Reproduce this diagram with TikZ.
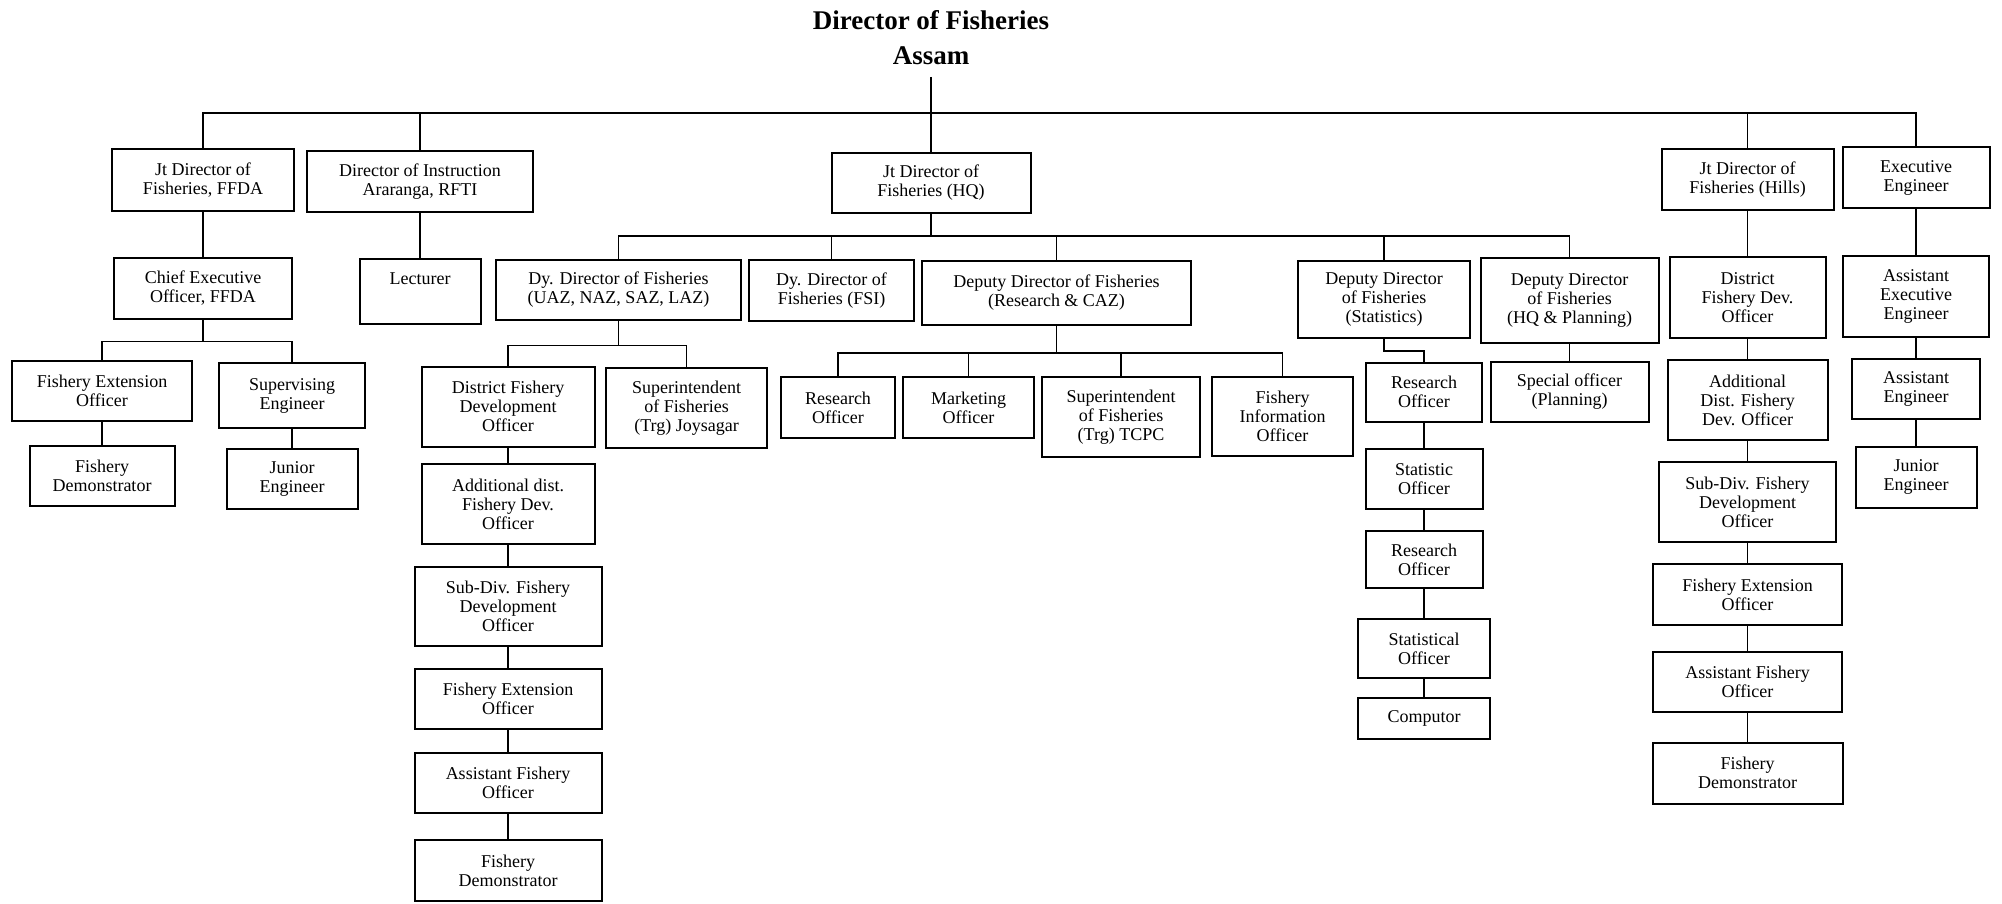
\documentclass[tikz,border=0pt]{standalone}
\usepackage{fontspec}
\setmainfont{Liberation Serif}
\begin{document}
\begin{tikzpicture}[x=1pt,y=-1pt,
  post/.style={draw, line width=2pt, align=center, inner sep=0pt, font=\fontsize{18}{19}\selectfont},
  link/.style={line width=1.6pt}]
\useasboundingbox (0,0) rectangle (2002,904);
\node[font=\bfseries\fontsize{27}{35}\selectfont, align=center] (dir) at (931,38) {Director of Fisheries\\Assam};
% first row
\node[post, minimum width=182, minimum height=62] (ffda) at (203,180) {Jt Director of\\Fisheries, FFDA};
\node[post, minimum width=226, minimum height=61] (rfti) at (420,181.5) {Director of Instruction\\Araranga, RFTI};
\node[post, minimum width=199, minimum height=60] (hq) at (931,183) {Jt Director of\\Fisheries (HQ)};
\node[post, minimum width=172, minimum height=61] (hills) at (1747.5,179.5) {Jt Director of\\Fisheries (Hills)};
\node[post, minimum width=147, minimum height=61] (exe) at (1916,178) {Executive\\Engineer};
% second row
\node[post, minimum width=178, minimum height=61] (ceo) at (203,288) {Chief Executive\\Officer, FFDA};
\node[post, minimum width=121, minimum height=65, text depth=25pt] (lect) at (420,291) {Lecturer};
\node[post, minimum width=245, minimum height=60] (uaz) at (618.5,290) {Dy. Director of Fisheries\\(UAZ, NAZ, SAZ, LAZ)};
\node[post, minimum width=165, minimum height=61] (fsi) at (831.5,290.5) {Dy. Director of\\Fisheries (FSI)};
\node[post, minimum width=269, minimum height=64] (rcaz) at (1056.5,293) {Deputy Director of Fisheries\\(Research \& CAZ)};
\node[post, minimum width=172, minimum height=77] (stats) at (1384,299.5) {Deputy Director\\of Fisheries\\(Statistics)};
\node[post, minimum width=178, minimum height=85] (plan) at (1569.5,300.5) {Deputy Director\\of Fisheries\\(HQ \& Planning)};
\node[post, minimum width=156, minimum height=81] (hdist) at (1747.5,297.5) {District\\Fishery Dev.\\Officer};
\node[post, minimum width=146, minimum height=81] (aee) at (1916,296.5) {Assistant\\Executive\\Engineer};
% FFDA side
\node[post, minimum width=180, minimum height=60] (feoa) at (102,391) {Fishery Extension\\Officer};
\node[post, minimum width=146, minimum height=65] (supe) at (292,395.5) {Supervising\\Engineer};
\node[post, minimum width=145, minimum height=60] (demoa) at (102,476) {Fishery\\Demonstrator};
\node[post, minimum width=131, minimum height=60] (jenga) at (292,479) {Junior\\Engineer};
% zones
\node[post, minimum width=173, minimum height=80] (dfdo) at (508,406.5) {District Fishery\\Development\\Officer};
\node[post, minimum width=161, minimum height=80] (supj) at (686.5,408) {Superintendent\\of Fisheries\\(Trg) Joysagar};
\node[post, minimum width=173, minimum height=80] (adfdo) at (508,504) {Additional dist.\\Fishery Dev.\\Officer};
\node[post, minimum width=187, minimum height=79] (sdfdo) at (508,606) {Sub-Div. Fishery\\Development\\Officer};
\node[post, minimum width=187, minimum height=60] (feob) at (508,698.5) {Fishery Extension\\Officer};
\node[post, minimum width=187, minimum height=60] (afob) at (508,783) {Assistant Fishery\\Officer};
\node[post, minimum width=187, minimum height=61] (demob) at (508,870.5) {Fishery\\Demonstrator};
% research
\node[post, minimum width=114, minimum height=61] (roa) at (838,407.5) {Research\\Officer};
\node[post, minimum width=131, minimum height=61] (mo) at (968.5,407.5) {Marketing\\Officer};
\node[post, minimum width=158, minimum height=80] (stcpc) at (1121,417) {Superintendent\\of Fisheries\\(Trg) TCPC};
\node[post, minimum width=141, minimum height=79] (fio) at (1282.5,416.5) {Fishery\\Information\\Officer};
% statistics
\node[post, minimum width=116, minimum height=59] (rob) at (1424,392) {Research\\Officer};
\node[post, minimum width=117, minimum height=60] (so) at (1424,479) {Statistic\\Officer};
\node[post, minimum width=117, minimum height=57] (roc) at (1424,559.5) {Research\\Officer};
\node[post, minimum width=132, minimum height=59] (sto) at (1424,648.5) {Statistical\\Officer};
\node[post, minimum width=132, minimum height=41] (comp) at (1424,718.5) {Computor};
\node[post, minimum width=158, minimum height=60] (spo) at (1569.5,391.7) {Special officer\\(Planning)};
% hills
\node[post, minimum width=160, minimum height=80] (hadd) at (1747.5,400) {Additional\\Dist. Fishery\\Dev. Officer};
\node[post, minimum width=177, minimum height=80] (hsub) at (1747.5,502) {Sub-Div. Fishery\\Development\\Officer};
\node[post, minimum width=189, minimum height=61] (hfeo) at (1747.5,594.5) {Fishery Extension\\Officer};
\node[post, minimum width=189, minimum height=60] (hafo) at (1747.5,682) {Assistant Fishery\\Officer};
\node[post, minimum width=190, minimum height=61] (hdemo) at (1747.5,773.3) {Fishery\\Demonstrator};
% engineers
\node[post, minimum width=128, minimum height=60] (aeng) at (1916,388.6) {Assistant\\Engineer};
\node[post, minimum width=121, minimum height=61] (jengb) at (1916,477.3) {Junior\\Engineer};
% connectors
\coordinate (stem) at (931,77);
\coordinate (bus) at (931,113);
\coordinate (hqbus) at (931,235.7);
\draw[link] (stem) -- (hq);
\draw[link] (ffda.north) |- (bus) -| (exe.north);
\foreach \n in {rfti,hills} \draw[link] (\n.north) -- (\n.north |- bus);
\draw[link] (ffda) -- (ceo);
\draw[link] (rfti) -- (lect);
\draw[link] (ceo.south) -- ++(0,22) coordinate (ceobus);
\draw[link] (feoa.north) |- (ceobus) -| (supe.north);
\draw[link] (feoa) -- (demoa);
\draw[link] (supe) -- (jenga);
\draw[link] (hq.south) -- (hqbus);
\draw[link] (uaz.north) |- (hqbus) -| (plan.north);
\foreach \n in {fsi,rcaz,stats} \draw[link] (\n.north) -- (\n.north |- hqbus);
\draw[link] (uaz.south) -- ++(0,24.6) coordinate (uazbus);
\draw[link] (dfdo.north) |- (uazbus) -| (supj.north);
\draw[link] (dfdo) -- (adfdo) -- (sdfdo) -- (feob) -- (afob) -- (demob);
\draw[link] (rcaz.south) -- ++(0,26.7) coordinate (rbus);
\draw[link] (roa.north) |- (rbus) -| (fio.north);
\foreach \n in {mo,stcpc} \draw[link] (\n.north) -- (\n.north |- rbus);
\draw[link] (stats.south) -- ++(0,12) -| (rob.north);
\draw[link] (rob) -- (so) -- (roc) -- (sto) -- (comp);
\draw[link] (plan) -- (spo);
\draw[link] (hills) -- (hdist) -- (hadd) -- (hsub) -- (hfeo) -- (hafo) -- (hdemo);
\draw[link] (exe) -- (aee) -- (aeng) -- (jengb);
\end{tikzpicture}
\end{document}
